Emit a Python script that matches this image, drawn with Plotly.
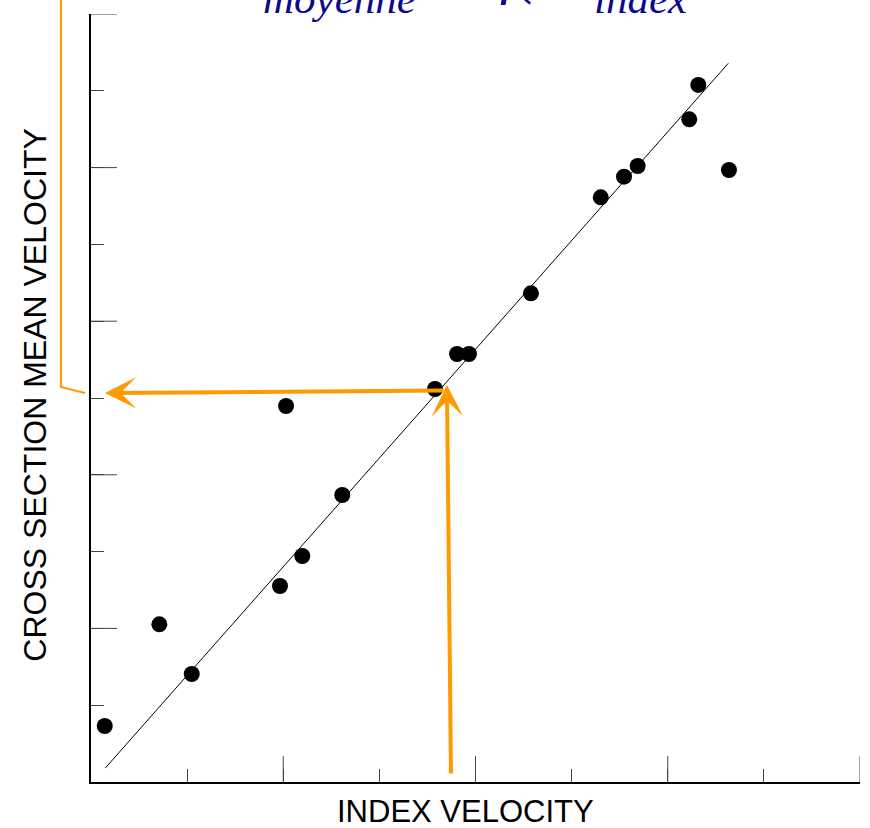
import plotly.graph_objects as go

# Data (axis units: x 0..8, y 0..10)
index_velocity = [0.143, 0.711, 1.048, 1.966, 2.029, 2.198, 2.614, 3.579, 3.808, 3.932,
                  4.577, 5.303, 5.545, 5.687, 6.224, 6.318, 6.637]
mean_velocity = [0.729, 2.053, 1.406, 2.552, 4.896, 2.943, 3.737, 5.117, 5.573, 5.573,
                 6.363, 7.613, 7.882, 8.021, 8.629, 9.076, 7.969]

fit_x = [0.149, 6.630]
fit_y = [0.182, 9.358]

x_major_ticks = [2, 4, 6, 8]
y_major_ticks = [2, 4, 6, 8, 10]

# Reading arrows (tail -> tip)
vert_arrow_tail = (3.745, 0.091)
vert_arrow_tip = (3.703, 5.169)
horiz_arrow_tail = (3.683, 5.098)
horiz_arrow_tip = (0.146, 5.065)

ORANGE = "#FF9A00"
NAVY = "#0A0A8A"
TICK_COLOR = "#444"
PLOT_W, PLOT_H = 769, 768
LONG_TICK = 26

fig = go.Figure()
fig.add_trace(go.Scatter(x=fit_x, y=fit_y, mode="lines",
                         line=dict(color="black", width=1), hoverinfo="skip"))
fig.add_trace(go.Scatter(x=index_velocity, y=mean_velocity, mode="markers",
                         marker=dict(color="black", size=16), cliponaxis=False))

short_ticks = dict(
    showgrid=False, zeroline=False, showticklabels=False,
    showline=True, linecolor="black", linewidth=1.5,
    ticks="inside", ticklen=13, tickwidth=1, tickcolor=TICK_COLOR,
    tickmode="linear", tick0=0, dtick=1,
)
fig.update_xaxes(range=[0, 8], **short_ticks)
fig.update_yaxes(range=[0, 10], **short_ticks)

shapes = [dict(type="path", xref="paper", yref="paper",
               path="M -0.039,1.03 L -0.039,0.5143 L -0.0078,0.5065",
               line=dict(color=ORANGE, width=2))]
for v in x_major_ticks:
    shapes.append(dict(type="line", xref="x", yref="paper", x0=v, x1=v,
                       y0=0, y1=LONG_TICK / PLOT_H, line=dict(color=TICK_COLOR, width=1)))
for v in y_major_ticks:
    shapes.append(dict(type="line", xref="paper", yref="y", x0=0, x1=LONG_TICK / PLOT_W,
                       y0=v, y1=v, line=dict(color=TICK_COLOR, width=1)))

annotations = [
    dict(x=vert_arrow_tip[0], y=vert_arrow_tip[1], ax=vert_arrow_tail[0], ay=vert_arrow_tail[1],
         xref="x", yref="y", axref="x", ayref="y", text="", showarrow=True,
         arrowhead=3, arrowsize=1.3, arrowwidth=4, arrowcolor=ORANGE, standoff=0),
    dict(x=horiz_arrow_tip[0], y=horiz_arrow_tip[1], ax=horiz_arrow_tail[0], ay=horiz_arrow_tail[1],
         xref="x", yref="y", axref="x", ayref="y", text="", showarrow=True,
         arrowhead=3, arrowsize=1.3, arrowwidth=4, arrowcolor=ORANGE, standoff=0),
    dict(x=0.487, y=-0.0385, xref="paper", yref="paper", text="INDEX VELOCITY",
         showarrow=False, xanchor="center", yanchor="middle",
         font=dict(family="Liberation Sans, Arial", size=31, color="black")),
    dict(x=-0.0733, y=0.5039, xref="paper", yref="paper", text="CROSS SECTION MEAN VELOCITY",
         showarrow=False, xanchor="center", yanchor="middle", textangle=-90,
         font=dict(family="Liberation Sans, Arial", size=32, color="black")),
    dict(x=0.3225, y=0.987, xref="paper", yref="paper", text="<i>moyenne</i>",
         showarrow=False, xanchor="center", yanchor="bottom",
         font=dict(family="Liberation Serif, Times New Roman", size=43, color=NAVY)),
    dict(x=0.558, y=1.009, xref="paper", yref="paper", text="<i>f(</i>",
         showarrow=False, xanchor="center", yanchor="bottom",
         font=dict(family="Liberation Serif, Times New Roman", size=60, color=NAVY)),
    dict(x=0.7152, y=0.987, xref="paper", yref="paper", text="<i>index</i>",
         showarrow=False, xanchor="center", yanchor="bottom",
         font=dict(family="Liberation Serif, Times New Roman", size=43, color=NAVY)),
]

fig.update_layout(
    width=870, height=828,
    margin=dict(l=91, r=10, t=14, b=46),
    paper_bgcolor="white", plot_bgcolor="white",
    showlegend=False,
    annotations=annotations,
    shapes=shapes,
)

fig.write_html("out.html")
